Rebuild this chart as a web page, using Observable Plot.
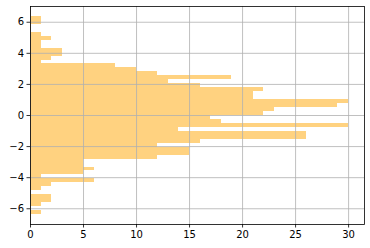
<!DOCTYPE html>
<html>
<head>
<meta charset="utf-8">
<script src="https://cdn.jsdelivr.net/npm/d3@7"></script>
<script src="https://cdn.jsdelivr.net/npm/@observablehq/plot@0.6"></script>
<style>
  html, body { margin: 0; padding: 0; background: #fff; }
  #chart svg { display: block; }
</style>
</head>
<body>
<div id="chart"></div>
<script>
// Histogram counts per bin, from the lowest bin to the highest
const counts = [1,0,1,2,2,0,1,2,6,1,5,6,5,5,12,15,15,12,16,26,26,14,30,18,17,22,23,29,30,21,21,22,16,13,19,12,10,8,1,2,3,3,1,1,2,1,0,0,1,1];
const binMin = -6.375;   // lower edge of the first bin
const binMax = 6.375;    // upper edge of the last bin
const xTicks = [0, 5, 10, 15, 20, 25, 30];
const yTicks = [-6, -4, -2, 0, 2, 4, 6];

const binW = (binMax - binMin) / counts.length;
const bins = counts.map((c, i) => ({
  count: c,
  y1: binMin + i * binW,
  y2: binMin + (i + 1) * binW
}));

const font = "DejaVu Sans, sans-serif";

const chart = Plot.plot({
  width: 370,
  height: 248,
  marginLeft: 30,
  marginRight: 6,
  marginTop: 6,
  marginBottom: 24,
  style: { fontFamily: font, fontSize: "10px", color: "#000", background: "#fff" },
  x: { domain: [0, 31.5], ticks: xTicks },
  y: { domain: [-7.0125, 7.0125], ticks: yTicks },
  marks: [
    Plot.rectX(bins, { x1: 0, x2: "count", y1: "y1", y2: "y2", fill: "#FFD280", inset: 0, shapeRendering: "crispEdges" }),
    Plot.gridX(xTicks, { stroke: "#b0b0b0", strokeOpacity: 1, strokeWidth: 0.8 }),
    Plot.gridY(yTicks, { stroke: "#b0b0b0", strokeOpacity: 1, strokeWidth: 0.8 }),
    Plot.axisX(xTicks, { tickSize: 3.5, tickPadding: 3, label: null, fontSize: 10, stroke: "#000", strokeWidth: 0.8 }),
    Plot.axisY(yTicks, { tickSize: 3.5, tickPadding: 3, label: null, fontSize: 10, stroke: "#000", strokeWidth: 0.8 }),
    Plot.frame({ stroke: "#000", strokeWidth: 0.8 })
  ]
});
document.getElementById("chart").appendChild(chart);
</script>
</body>
</html>
